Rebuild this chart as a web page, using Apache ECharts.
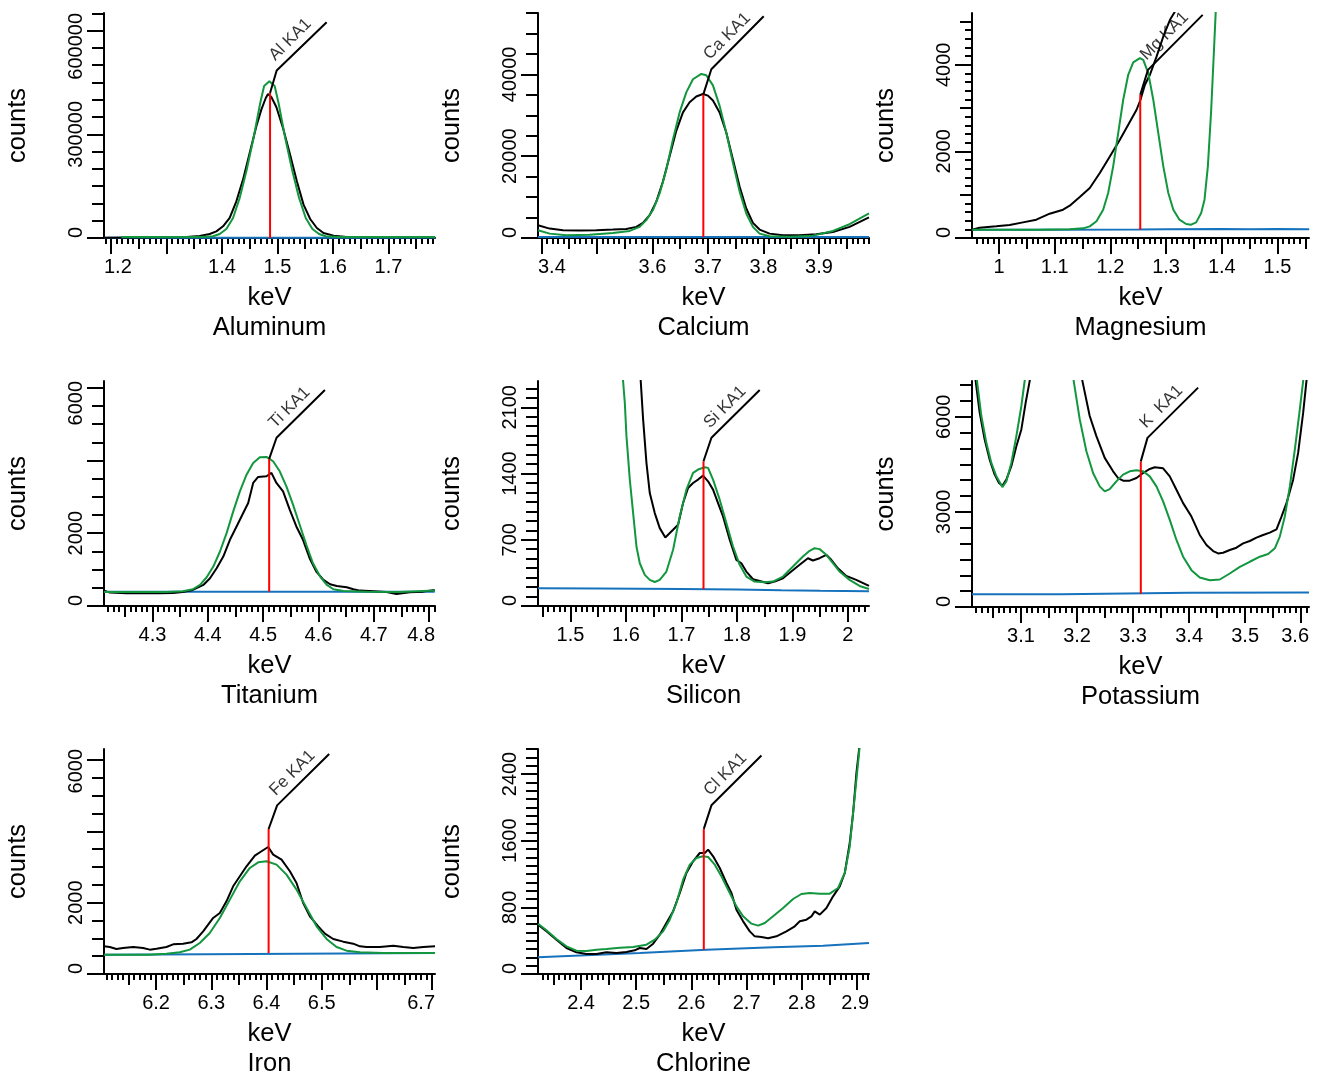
<!DOCTYPE html>
<html>
<head>
<meta charset="utf-8">
<title>EDS peak fits</title>
<style>
  body { margin: 0; background-color: #FFFFFF; }
  #main { width: 1326px; height: 1082px; }
</style>
</head>
<body>
<div id="main"></div>
<script src="https://cdn.jsdelivr.net/npm/echarts@6/dist/echarts.min.js"></script>
<script>
// ---- data: [keV, counts] ----
var alData = [[1.188,1000],[1.288,1900],[1.336,2900],[1.360,5800],[1.378,11600],[1.390,19300],[1.402,33800],[1.414,57900],[1.426,106100],[1.438,168800],[1.450,246000],[1.462,323100],[1.471,371400],[1.479,405100],[1.483,416700],[1.489,408000],[1.498,379100],[1.510,318300],[1.522,246000],[1.535,164000],[1.547,96500],[1.559,55000],[1.571,28900],[1.583,14500],[1.601,6800],[1.625,2900],[1.784,1900]];
var alFit = [[1.219,2900],[1.300,2900],[1.360,3000],[1.384,5000],[1.396,11600],[1.408,26000],[1.420,57900],[1.432,115800],[1.444,192900],[1.457,289400],[1.469,390700],[1.476,440000],[1.4855,453400],[1.495,440000],[1.502,390700],[1.514,289400],[1.527,192900],[1.539,115800],[1.551,57900],[1.563,26000],[1.575,11600],[1.587,5000],[1.610,3000],[1.784,2900]];
var alBack = [[1.1876,600],[1.7838,600]];
var alRed = [[1.4867,0],[1.4867,419400]];
var alLeader = [[1.4867,419400],[1.4986,484900],[1.5886,624000]];

var caData = [[3.394,3130],[3.415,2300],[3.439,1890],[3.469,1810],[3.499,1890],[3.529,2060],[3.553,2220],[3.571,2720],[3.583,3700],[3.595,5600],[3.607,8890],[3.619,13800],[3.631,20000],[3.643,26200],[3.655,30700],[3.667,33200],[3.679,34600],[3.691,35200],[3.700,34800],[3.709,33600],[3.721,30700],[3.733,25800],[3.745,19200],[3.757,12600],[3.769,7200],[3.781,3700],[3.793,2060],[3.811,1070],[3.835,660],[3.865,660],[3.895,900],[3.925,1480],[3.955,2720],[3.990,5020]];
var caFit = [[3.394,1890],[3.415,1070],[3.445,660],[3.487,820],[3.529,1230],[3.559,1730],[3.577,2720],[3.589,4360],[3.601,6830],[3.613,10900],[3.625,16700],[3.637,24100],[3.649,30700],[3.661,35600],[3.673,38800],[3.688,40100],[3.697,39800],[3.709,37300],[3.721,32300],[3.733,25800],[3.745,18400],[3.757,11400],[3.769,6000],[3.781,2720],[3.793,1070],[3.811,410],[3.847,330],[3.889,580],[3.925,1730],[3.955,3370],[3.990,6000]];
var caBack = [[3.394,250],[3.990,250]];
var caRed = [[3.6917,250],[3.6917,35100]];
var caLeader = [[3.6917,35100],[3.7061,41250],[3.8004,54220]];

var mgData = [[0.952,192],[0.965,238],[0.995,269],[1.019,300],[1.043,361],[1.067,423],[1.091,561],[1.115,654],[1.127,746],[1.145,946],[1.163,1154],[1.181,1500],[1.199,1884],[1.217,2269],[1.232,2615],[1.247,2961],[1.254,3192],[1.262,3538],[1.271,3769],[1.283,4192],[1.295,4653],[1.307,5038],[1.316,5230],[1.325,5450]];
var mgFit = [[0.952,192],[1.067,192],[1.127,200],[1.151,223],[1.163,269],[1.175,385],[1.187,654],[1.196,1038],[1.205,1654],[1.214,2423],[1.223,3192],[1.232,3769],[1.241,4053],[1.253,4153],[1.259,4115],[1.268,3807],[1.277,3192],[1.286,2423],[1.295,1654],[1.304,1038],[1.313,654],[1.324,423],[1.336,323],[1.345,308],[1.354,361],[1.363,577],[1.369,885],[1.375,1654],[1.381,2961],[1.386,4346],[1.389,5192],[1.392,5600]];
var mgBack = [[0.952,192],[1.100,190],[1.250,195],[1.300,200],[1.400,205],[1.450,200],[1.500,206],[1.557,200]];
var mgRed = [[1.2536,192],[1.2536,3306]];
var mgLeader = [[1.2536,3306],[1.2675,3882],[1.3657,5151]];

var tiData = [[4.2125,423],[4.223,368],[4.253,349],[4.283,349],[4.313,349],[4.337,358],[4.355,386],[4.373,441],[4.392,579],[4.404,763],[4.416,1038],[4.428,1360],[4.440,1820],[4.452,2187],[4.464,2555],[4.473,2831],[4.482,3382],[4.491,3547],[4.506,3566],[4.515,3658],[4.524,3382],[4.536,3152],[4.548,2647],[4.560,2187],[4.572,1820],[4.584,1314],[4.596,947],[4.609,717],[4.621,597],[4.633,551],[4.651,515],[4.663,460],[4.675,423],[4.699,404],[4.723,386],[4.741,331],[4.765,377],[4.789,395],[4.810,441]];
var tiFit = [[4.2125,386],[4.325,386],[4.355,404],[4.373,460],[4.386,579],[4.398,790],[4.410,1084],[4.422,1498],[4.434,2003],[4.446,2600],[4.458,3152],[4.470,3611],[4.482,3933],[4.494,4089],[4.506,4099],[4.518,3979],[4.530,3703],[4.542,3290],[4.554,2785],[4.566,2233],[4.578,1682],[4.590,1176],[4.603,809],[4.615,579],[4.627,460],[4.645,414],[4.687,395],[4.747,386],[4.810,423]];
var tiBack = [[4.2125,395],[4.810,395]];
var tiRed = [[4.5109,395],[4.5109,4045]];
var tiLeader = [[4.5109,4045],[4.5242,4624],[4.6116,5936]];

var siData = [[1.622,3000],[1.6267,2378],[1.631,1972],[1.637,1513],[1.643,1194],[1.652,982],[1.661,823],[1.671,724],[1.685,806],[1.694,859],[1.703,1088],[1.712,1247],[1.721,1300],[1.730,1336],[1.739,1378],[1.748,1318],[1.757,1230],[1.766,1088],[1.775,947],[1.787,700],[1.799,488],[1.808,452],[1.817,364],[1.829,283],[1.841,265],[1.856,240],[1.868,258],[1.883,293],[1.898,364],[1.913,435],[1.928,505],[1.937,481],[1.949,505],[1.961,541],[1.970,488],[1.982,399],[1.997,318],[2.015,276],[2.038,212]];
var siFit = [[1.590,3000],[1.5949,2378],[1.598,2149],[1.601,1795],[1.607,1336],[1.613,982],[1.619,629],[1.625,452],[1.634,329],[1.643,276],[1.652,254],[1.661,276],[1.673,364],[1.685,594],[1.697,947],[1.709,1230],[1.721,1407],[1.730,1442],[1.742,1467],[1.748,1460],[1.757,1336],[1.769,1124],[1.781,876],[1.793,629],[1.805,435],[1.817,311],[1.832,258],[1.850,251],[1.865,258],[1.883,311],[1.901,417],[1.919,523],[1.931,583],[1.940,611],[1.949,601],[1.961,541],[1.973,452],[1.985,364],[2.003,276],[2.021,212],[2.038,180]];
var siBack = [[1.4416,187],[1.550,185],[1.700,180],[1.800,175],[1.880,166],[1.950,160],[2.038,155]];
var siRed = [[1.7398,178],[1.7398,1530]];
var siLeader = [[1.7398,1530],[1.7541,1778],[1.8411,2283]];

var kData = [[3.0125,8200],[3.0190,7135],[3.0262,6131],[3.0351,5285],[3.0440,4651],[3.0530,4175],[3.0607,3911],[3.0667,3826],[3.0738,4017],[3.0827,4440],[3.0917,5074],[3.1006,5602],[3.1083,6448],[3.1155,7135],[3.130,9500],[3.160,11000],[3.195,9500],[3.2095,7135],[3.2226,6025],[3.2345,5391],[3.2494,4704],[3.2643,4281],[3.2732,4069],[3.2821,3985],[3.2940,3985],[3.3060,4069],[3.3179,4228],[3.3298,4355],[3.3387,4408],[3.3536,4376],[3.3655,4122],[3.3774,3700],[3.3893,3277],[3.4042,2854],[3.4190,2273],[3.4310,1955],[3.4429,1765],[3.4518,1691],[3.4607,1712],[3.4726,1797],[3.4845,1871],[3.4964,2008],[3.5083,2082],[3.5202,2188],[3.5321,2273],[3.5440,2347],[3.5560,2452],[3.5649,2854],[3.5738,3277],[3.5857,4017],[3.5946,4862],[3.6036,6131],[3.6095,7135],[3.614,8000]];
var kFit = [[3.0125,8300],[3.0214,7135],[3.0292,6025],[3.0381,5180],[3.0470,4545],[3.0560,4122],[3.0667,3784],[3.0738,3964],[3.0827,4545],[3.0917,5391],[3.1006,6342],[3.1065,7135],[3.130,9500],[3.160,11000],[3.185,9000],[3.1940,7135],[3.2048,5919],[3.2167,4915],[3.2286,4228],[3.2405,3805],[3.2494,3647],[3.2583,3721],[3.2702,3964],[3.2821,4175],[3.2940,4281],[3.3060,4313],[3.3179,4281],[3.3298,4122],[3.3417,3805],[3.3536,3330],[3.3655,2748],[3.3774,2114],[3.3893,1586],[3.4042,1163],[3.4190,930],[3.4369,846],[3.4548,867],[3.4726,1057],[3.4905,1268],[3.5083,1427],[3.5262,1586],[3.5411,1670],[3.5530,1850],[3.5619,2220],[3.5708,2854],[3.5798,3805],[3.5887,4968],[3.5976,6237],[3.6036,7135],[3.614,8500]];
var kBack = [[3.0125,402],[3.150,402],[3.152,440],[3.156,402],[3.172,402],[3.174,444],[3.400,450],[3.614,455]];
var kRed = [[3.3138,420],[3.3138,4594]];
var kLeader = [[3.3138,4594],[3.3257,5336],[3.4161,6920]];

var feData = [[6.1059,776],[6.1162,757],[6.1283,701],[6.1403,729],[6.1585,757],[6.1766,729],[6.1886,683],[6.2007,711],[6.2188,757],[6.2309,832],[6.2490,851],[6.2641,888],[6.2732,982],[6.2853,1197],[6.3034,1571],[6.3155,1711],[6.3275,2038],[6.3396,2459],[6.3517,2740],[6.3638,3020],[6.3789,3319],[6.3909,3441],[6.4030,3562],[6.4121,3347],[6.4272,3207],[6.4423,2880],[6.4543,2553],[6.4664,1992],[6.4785,1618],[6.4936,1337],[6.5057,1131],[6.5208,982],[6.5389,907],[6.5570,851],[6.5691,776],[6.5812,757],[6.6053,757],[6.6295,795],[6.6476,757],[6.6657,729],[6.6838,757],[6.7050,776]];
var feFit = [[6.1059,542],[6.1886,542],[6.2188,570],[6.2430,608],[6.2611,683],[6.2792,870],[6.2973,1150],[6.3155,1571],[6.3336,2085],[6.3517,2599],[6.3698,2973],[6.3849,3132],[6.4000,3160],[6.4181,3067],[6.4362,2786],[6.4543,2366],[6.4725,1851],[6.4906,1337],[6.5087,982],[6.5268,757],[6.5449,655],[6.5691,608],[6.6114,589],[6.7050,589]];
var feBack = [[6.1059,542],[6.290,551],[6.292,589],[6.7050,589]];
var feRed = [[6.4038,589],[6.4038,4066]];
var feLeader = [[6.4038,4066],[6.4192,4728],[6.5134,6169]];

var clData = [[2.3222,592],[2.3373,512],[2.3554,412],[2.3736,312],[2.3917,260],[2.4098,240],[2.4279,240],[2.4460,260],[2.4641,252],[2.4822,264],[2.4973,284],[2.5064,312],[2.5185,300],[2.5306,364],[2.5426,472],[2.5547,612],[2.5668,752],[2.5789,972],[2.5909,1212],[2.6030,1352],[2.6151,1452],[2.6242,1452],[2.6302,1492],[2.6393,1412],[2.6513,1272],[2.6634,1092],[2.6725,972],[2.6815,772],[2.6936,632],[2.7057,512],[2.7147,452],[2.7268,444],[2.7389,428],[2.7540,452],[2.7721,512],[2.7872,572],[2.7963,632],[2.8083,652],[2.8174,692],[2.8234,752],[2.8325,712],[2.8446,792],[2.8566,932],[2.8687,1052],[2.8778,1212],[2.8868,1572],[2.8929,1932],[2.8989,2412],[2.9037,2692],[2.9080,3000]];
var clFit = [[2.3222,604],[2.3373,524],[2.3554,420],[2.3736,332],[2.3917,280],[2.4098,276],[2.4279,292],[2.4460,300],[2.4702,316],[2.4943,324],[2.5185,352],[2.5336,412],[2.5487,512],[2.5607,652],[2.5728,852],[2.5849,1132],[2.5970,1312],[2.6091,1392],[2.6211,1412],[2.6302,1404],[2.6423,1312],[2.6543,1172],[2.6694,972],[2.6815,812],[2.6936,692],[2.7087,604],[2.7208,580],[2.7329,612],[2.7479,692],[2.7661,792],[2.7842,900],[2.7993,960],[2.8144,972],[2.8325,964],[2.8506,964],[2.8657,1032],[2.8778,1212],[2.8868,1532],[2.8959,2132],[2.9037,2652],[2.9080,3000]];
var clBack = [[2.3222,200],[2.5064,252],[2.6272,292],[2.7479,320],[2.8385,340],[2.9217,372]];
var clRed = [[2.6224,292],[2.6224,1741]];
var clLeader = [[2.6224,1741],[2.6362,2024],[2.7268,2621]];

// ---- tick labels ----
var alXLabels = [1.2, 1.4, 1.5, 1.6, 1.7], alYLabels = [0, 300000, 600000];
var caXLabels = [3.4, 3.6, 3.7, 3.8, 3.9], caYLabels = [0, 20000, 40000];
var mgXLabels = [1, 1.1, 1.2, 1.3, 1.4, 1.5], mgYLabels = [0, 2000, 4000];
var tiXLabels = [4.3, 4.4, 4.5, 4.6, 4.7, 4.8], tiYLabels = [0, 2000, 6000];
var siXLabels = [1.5, 1.6, 1.7, 1.8, 1.9, 2], siYLabels = [0, 700, 1400, 2100];
var kXLabels = [3.1, 3.2, 3.3, 3.4, 3.5, 3.6], kYLabels = [0, 3000, 6000];
var feXLabels = [6.2, 6.3, 6.4, 6.5, 6.7], feYLabels = [0, 2000, 6000];
var clXLabels = [2.4, 2.5, 2.6, 2.7, 2.8, 2.9], clYLabels = [0, 800, 1600, 2400];

// ---- panel layout ----
var panels = [
  {name:'Aluminum',  tag:'Al KA1', box:[104,13,331,225], x:[1.1876,1.7838], y:[0,651000], xLabels:alXLabels, yLabels:alYLabels, yMajor:300000, yMinor:50000, data:alData, fit:alFit, back:alBack, red:alRed, leader:alLeader},
  {name:'Calcium',   tag:'Ca KA1', box:[538,13,331,225], x:[3.394,3.990],   y:[0,55000],  xLabels:caXLabels, yLabels:caYLabels, yMajor:20000, yMinor:5000, data:caData, fit:caFit, back:caBack, red:caRed, leader:caLeader},
  {name:'Magnesium', tag:'Mg KA1', box:[972,13,337,225], x:[0.9515,1.5566], y:[0,5195],   xLabels:mgXLabels, yLabels:mgYLabels, yMajor:2000, yMid:1000, yMinor:200, data:mgData, fit:mgFit, back:mgBack, red:mgRed, leader:mgLeader},
  {name:'Titanium',  tag:'Ti KA1', box:[104,381,331,225], x:[4.2125,4.8105], y:[0,6185],  xLabels:tiXLabels, yLabels:tiYLabels, yMajor:2000, yMinor:500, data:tiData, fit:tiFit, back:tiBack, red:tiRed, leader:tiLeader},
  {name:'Silicon',   tag:'Si KA1', box:[538,381,331,225], x:[1.4416,2.038],  y:[0,2378],  xLabels:siXLabels, yLabels:siYLabels, yMajor:700, yMinor:100, data:siData, fit:siFit, back:siBack, red:siRed, leader:siLeader},
  {name:'Potassium', tag:'K  KA1', box:[972,381,337,226], x:[3.0125,3.614],  y:[0,7130],  xLabels:kXLabels, yLabels:kYLabels, yMajor:3000, yMinor:500, data:kData, fit:kFit, back:kBack, red:kRed, leader:kLeader},
  {name:'Iron',      tag:'Fe KA1', box:[104,749,331,225], x:[6.1058,6.705],  y:[0,6309],  xLabels:feXLabels, yLabels:feYLabels, yMajor:2000, yMinor:500, data:feData, fit:feFit, back:feBack, red:feRed, leader:feLeader},
  {name:'Chlorine',  tag:'Cl KA1', box:[538,749,331,225], x:[2.322,2.9217],  y:[0,2700],  xLabels:clXLabels, yLabels:clYLabels, yMajor:800, yMinor:100, data:clData, fit:clFit, back:clBack, red:clRed, leader:clLeader}
];

var FONT = '"Liberation Sans", Arial, Helvetica, sans-serif';
var INK = '#000000', FITC = '#12963e', BACKC = '#1672bd', REDC = '#ff0000';
var TICKFONT = 20, TITLEFONT = 25.5;

var measure = document.createElement('canvas').getContext('2d');
function textWidth(s, size) {
    measure.font = size + 'px ' + FONT;
    return measure.measureText(s).width;
}

// tick positions on multiples of step inside [lo, hi]
function steps(lo, hi, step) {
    var out = [];
    for (var k = Math.ceil(lo / step - 1e-9); k * step <= hi + 1e-9; k++) {
        out.push(Math.round(k * step * 1e6) / 1e6);
    }
    return out;
}

// labels near the ends of an axis are pushed back inside it (like the original plot)
function edgeLabels(values, lo, hi, span) {
    var rich = {};
    values.forEach(function (v, i) {
        var w = textWidth(String(v), TICKFONT);
        var pos = (v - lo) / (hi - lo) * span;
        var shift = 0;
        if (pos - w / 2 < 0) shift = w / 2 - pos;
        else if (pos + w / 2 > span) shift = span - pos - w / 2;
        rich['t' + i] = {
            fontSize: TICKFONT, fontFamily: FONT, color: INK,
            padding: shift > 0 ? [0, 0, 0, 2 * shift] : [0, -2 * shift, 0, 0]
        };
    });
    return {
        rich: rich,
        formatter: function (v) {
            for (var i = 0; i < values.length; i++) {
                if (Math.abs(values[i] - v) < 1e-9) return '{t' + i + '|' + values[i] + '}';
            }
            return '';
        }
    };
}

function bareAxis(i, range, position) {
    return {
        type: 'value', gridIndex: i, position: position, min: range[0], max: range[1],
        splitLine: {show: false}, axisLine: {show: false, onZero: false},
        axisLabel: {show: false}, axisTick: {show: false}, silent: true
    };
}
function ticks(values, len) {
    return {show: true, customValues: values, length: len, lineStyle: {color: INK, width: 2}};
}
function curve(data, color, width, xi, yi, z) {
    return {
        type: 'line', data: data, xAxisIndex: xi, yAxisIndex: yi, z: z,
        symbol: 'none', showSymbol: false, silent: true, animation: false,
        lineStyle: {color: color, width: width}
    };
}

var grid = [], xAxis = [], yAxis = [], series = [];

panels.forEach(function (p, i) {
    grid.push({left: p.box[0], top: p.box[1], width: p.box[2], height: p.box[3]});
    var xi = xAxis.length, yi = yAxis.length;

    // x axis: labelled 0.1 ticks, 0.05 ticks, 0.01 ticks
    var xl = edgeLabels(p.xLabels, p.x[0], p.x[1], p.box[2]);
    var xMain = bareAxis(i, p.x, 'bottom');
    xMain.axisLine = {show: true, onZero: false, lineStyle: {color: INK, width: 2}};
    xMain.axisTick = ticks(steps(p.x[0], p.x[1], 0.1), 16);
    xMain.axisLabel = {show: true, customValues: p.xLabels, margin: 19, formatter: xl.formatter, rich: xl.rich,
                       color: INK, fontSize: TICKFONT, fontFamily: FONT};
    xMain.name = 'keV\n' + p.name;
    xMain.nameLocation = 'middle';
    xMain.nameGap = 45;
    xMain.nameTextStyle = {color: INK, fontSize: TITLEFONT, lineHeight: 30, fontFamily: FONT};
    var xMid = bareAxis(i, p.x, 'bottom');
    xMid.axisTick = ticks(steps(p.x[0], p.x[1], 0.05), 11);
    var xMinor = bareAxis(i, p.x, 'bottom');
    xMinor.axisTick = ticks(steps(p.x[0], p.x[1], 0.01), 6);
    xAxis.push(xMain, xMid, xMinor);

    // y axis
    var yl = edgeLabels(p.yLabels, p.y[0], p.y[1], p.box[3]);
    var yMain = bareAxis(i, p.y, 'left');
    yMain.axisLine = {show: true, onZero: false, lineStyle: {color: INK, width: 2}};
    yMain.axisTick = ticks(steps(p.y[0], p.y[1], p.yMajor), 17);
    yMain.axisLabel = {show: true, customValues: p.yLabels, rotate: 90, margin: 18, formatter: yl.formatter, rich: yl.rich,
                       color: INK, fontSize: TICKFONT, fontFamily: FONT};
    yMain.name = 'counts';
    yMain.nameLocation = 'middle';
    yMain.nameGap = 73;
    yMain.nameTextStyle = {color: INK, fontSize: TITLEFONT, fontFamily: FONT};
    var yMinor = bareAxis(i, p.y, 'left');
    yMinor.axisTick = ticks(steps(p.y[0], p.y[1], p.yMinor), p.yMid ? 7 : 12);
    yAxis.push(yMain, yMinor);
    if (p.yMid) {
        var yMid = bareAxis(i, p.y, 'left');
        yMid.axisTick = ticks(steps(p.y[0], p.y[1], p.yMid), 12);
        yAxis.push(yMid);
    }

    series.push(curve(p.back, BACKC, 2, xi, yi, 2));
    series.push(curve(p.data, INK, 2, xi, yi, 3));
    series.push(curve(p.fit, FITC, 2, xi, yi, 4));
    series.push(curve(p.red, REDC, 2, xi, yi, 5));
    series.push(curve(p.leader, INK, 2, xi, yi, 6));
    // line tag, written along the leader
    series.push({
        type: 'scatter', xAxisIndex: xi, yAxisIndex: yi, z: 7, silent: true, animation: false,
        data: [p.leader[1]], symbolSize: 1, itemStyle: {color: 'rgba(0,0,0,0)'},
        label: {show: true, formatter: p.tag, position: 'right', distance: 0, rotate: 45,
                align: 'left', verticalAlign: 'bottom', padding: [0, 0, 4, 5],
                color: INK, fontSize: 17, fontFamily: FONT}
    });
});

var myChart = echarts.init(document.getElementById('main'), null, {renderer: 'canvas'});
myChart.setOption({
    animation: false,
    backgroundColor: '#FFFFFF',
    grid: grid,
    xAxis: xAxis,
    yAxis: yAxis,
    series: series
});
</script>
</body>
</html>
